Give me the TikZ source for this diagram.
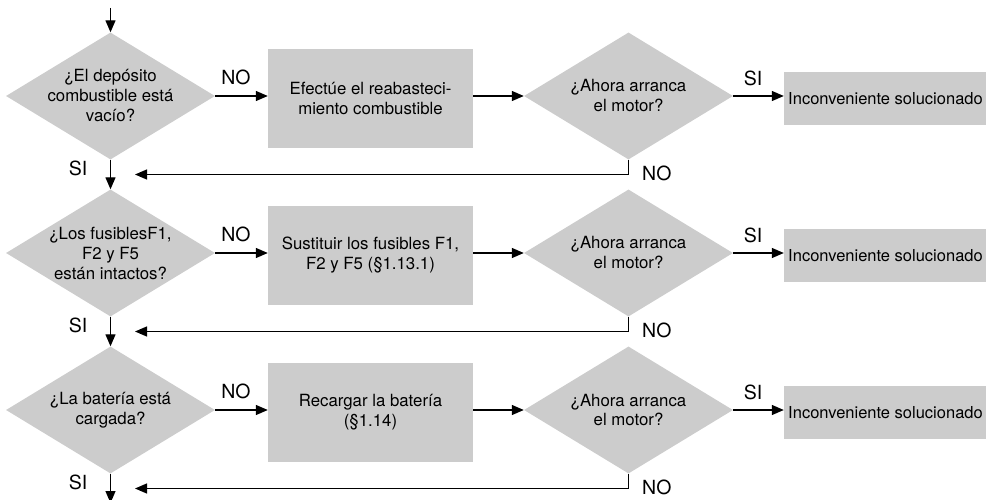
\documentclass[tikz,border=0pt]{standalone}
\usepackage{fontspec}
\setmainfont{TeX Gyre Heros}
\usetikzlibrary{shapes.geometric,arrows.meta}
\definecolor{boxgray}{HTML}{CCCCCC}
\begin{document}
\begin{tikzpicture}[x=1pt,y=-1pt,
  dia/.style={shape=diamond,fill=boxgray,draw=none,minimum width=209pt,minimum height=127pt,inner sep=0pt},
  dtext/.style={align=center,font=\fontsize{16.8}{20}\selectfont,inner sep=0pt},
  act/.style={fill=boxgray,draw=none,minimum width=205pt,minimum height=99pt,align=center,font=\fontsize{16.8}{20}\selectfont,inner sep=0pt},
  done/.style={fill=boxgray,draw=none,minimum width=203pt,minimum height=53pt,align=center,font=\fontsize{16.5}{20}\selectfont,inner sep=0pt},
  lab/.style={font=\fontsize{19.5}{20}\selectfont,inner sep=0pt},
  conn/.style={line width=1.3pt,-{Triangle[length=12pt,width=10pt]}},
  seg/.style={line width=1.3pt}]
\useasboundingbox (0,0) rectangle (986,500);
\clip (0,0) rectangle (986,500);

\foreach \r/\Y/\q/\a in {1/96/{¿El depósito\\combustible está\\vacío?}/{Efectúe el reabasteci-\\miento combustible},
                         2/253/{¿Los fusiblesF1,\\F2 y F5\\están intactos?}/{Sustituir los fusibles F1,\\F2 y F5 (§1.13.1)},
                         3/410/{¿La batería está\\cargada?}/{Recargar la batería\\(§1.14)}}{
  \node[dia] (d\r) at (110.5,\Y) {};
  \node[dtext] (d\r t) at (d\r.center) {\q};
  \node[act] (b\r) at (370.5,\Y+2.5) {\a};
  \node[dia] (q\r) at (628.5,\Y) {};
  \node[dtext] (q\r t) at (q\r.center) {¿Ahora arranca\\el motor?};
  \node[done] (s\r) at (885.5,\Y+2.5) {Inconveniente solucionado};
  \coordinate (l\r) at (135,\Y+78.5);
  \draw[conn] (d\r.east) -- (d\r.east -| b\r.west);
  \draw[conn] (b\r.east |- d\r.east) -- (q\r.west);
  \draw[conn] (q\r.east) -- (q\r.east -| s\r.west);
  \draw[conn] (q\r.south) |- (l\r);
  \node[lab] (no\r) at (236,\Y-19) {NO};
  \node[lab] (si\r) at (753,\Y-18) {SI};
  \node[lab,anchor=west] (nl\r) at (642,\Y+77.5) {NO};
  \node[lab] (sl\r) at (78,\Y+72) {SI};
}
\coordinate (top) at (110.5,8);
\coordinate (bot) at (110.5,503);
\draw[conn] (top) -- (d1.north);
\draw[conn] (d1.south) -- (d2.north);
\draw[conn] (d2.south) -- (d3.north);
\draw[conn] (d3.south) -- (bot);
\end{tikzpicture}
\end{document}
